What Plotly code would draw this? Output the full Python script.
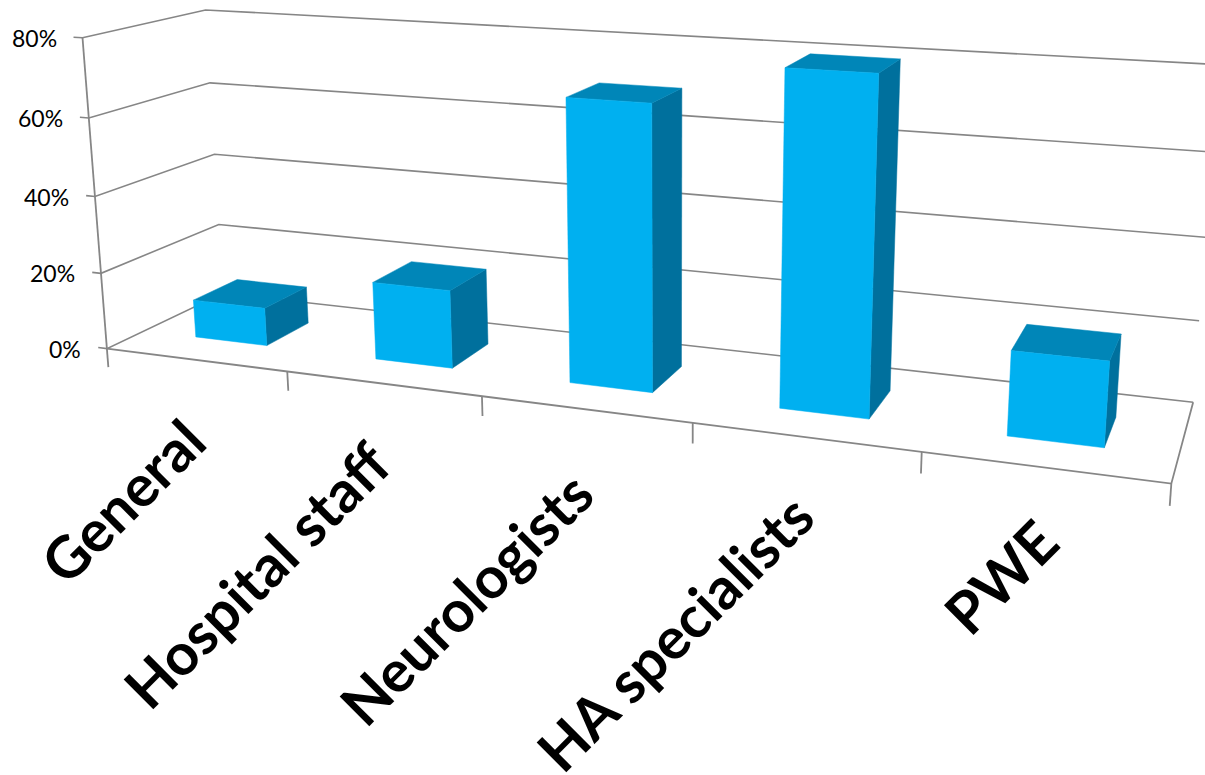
import numpy as np
import plotly.graph_objects as go

categories = ["General", "Hospital staff", "Neurologists", "HA specialists", "PWE"]
values = [10, 20, 70, 80, 20]
value_ticks = [0, 20, 40, 60, 80]
tick_labels = ["0%", "20%", "40%", "60%", "80%"]

# Perspective camera for the box (x: category slots, y: depth 0-1, z: percent).
EYE = np.array([1.03849, -2.65751, 0.71579])
TARGET = np.array([0.07025, 0.0, -0.0058])
UP = np.array([0.00041, 0.0, 1.0])
BOX = (1.73799, 0.34898, 0.5258)
FOCAL = 1865.74808
PRINCIPAL = (667.54887, 223.3229)
BAR_HALF_WIDTH = 0.20138
BAR_DEPTH = (0.3036, 0.69075)

WIDTH, HEIGHT = 1205, 775
GRID = "#868686"
FRONT, TOP, SIDE = "#00B0F0", "#0086B8", "#00709D"

_z = (EYE - TARGET) / np.linalg.norm(EYE - TARGET)
_x = np.cross(UP, _z)
_x = _x / np.linalg.norm(_x)
_y = np.cross(_z, _x)


def project(x, y, z):
    """Map a chart-space point to screen position."""
    world = np.array([
        (x / len(categories) - 0.5) * BOX[0],
        (y - 0.5) * BOX[1],
        (z / max(value_ticks) - 0.5) * BOX[2],
    ])
    d = world - EYE
    depth = -(d @ _z)
    return PRINCIPAL[0] + FOCAL * (d @ _x) / depth, PRINCIPAL[1] - FOCAL * (d @ _y) / depth


fig = go.Figure()


def add_line(points, width=1.6):
    xy = [project(*p) for p in points]
    fig.add_trace(go.Scatter(
        x=[q[0] for q in xy], y=[q[1] for q in xy], mode="lines",
        line=dict(color=GRID, width=width), hoverinfo="skip", showlegend=False,
    ))


def add_face(points, color):
    xy = [project(*p) for p in points]
    fig.add_trace(go.Scatter(
        x=[q[0] for q in xy] + [xy[0][0]], y=[q[1] for q in xy] + [xy[0][1]],
        mode="lines", fill="toself", fillcolor=color,
        line=dict(color=color, width=0.5), hoverinfo="skip", showlegend=False,
    ))


n = len(categories)
top_tick = max(value_ticks)

# Side wall and back wall gridlines, with the stub at the value axis.
for v in value_ticks:
    add_line([(-0.05, 0, v), (0, 0, v), (0, 1, v), (n, 1, v)])

# Value axis, floor outline and category ticks.
add_line([(0, 0, top_tick), (0, 0, 0)], 1.8)
add_line([(0, 0, 0), (n, 0, 0), (n, 1, 0)], 1.8)
for i in range(n + 1):
    add_line([(i, 0, 0), (i, 0, -5)], 1.8)

# Bars: side, top, then front face.
y0, y1 = BAR_DEPTH
for i, v in enumerate(values):
    left, right = i + 0.5 - BAR_HALF_WIDTH, i + 0.5 + BAR_HALF_WIDTH
    add_face([(right, y0, 0), (right, y1, 0), (right, y1, v), (right, y0, v)], SIDE)
    add_face([(left, y0, v), (right, y0, v), (right, y1, v), (left, y1, v)], TOP)
    add_face([(left, y0, 0), (right, y0, 0), (right, y0, v), (left, y0, v)], FRONT)

# Value labels sit just left of the axis stubs.
for v, label in zip(value_ticks, tick_labels):
    px, py = project(-0.05, 0, v)
    fig.add_annotation(
        x=px - 15, y=py + 1, text=label, showarrow=False, xanchor="right", yanchor="middle",
        font=dict(family="Lato", size=23, color="#000000"), xref="x", yref="y",
    )

# Slanted category labels.
label_centres = [(122, 500), (256, 574), (465, 598), (674, 632), (1000, 576)]
for name, (cx, cy) in zip(categories, label_centres):
    fig.add_annotation(
        x=cx, y=cy, text=f"<b>{name}</b>", showarrow=False, textangle=-45,
        xanchor="center", yanchor="middle",
        font=dict(family="Lato", size=58, color="#000000"), xref="x", yref="y",
    )

fig.update_layout(
    width=WIDTH, height=HEIGHT, margin=dict(l=0, r=0, t=0, b=0),
    paper_bgcolor="white", plot_bgcolor="white", showlegend=False,
    xaxis=dict(range=[0, WIDTH], visible=False),
    yaxis=dict(range=[HEIGHT, 0], visible=False),
)

fig.write_html("out.html")
